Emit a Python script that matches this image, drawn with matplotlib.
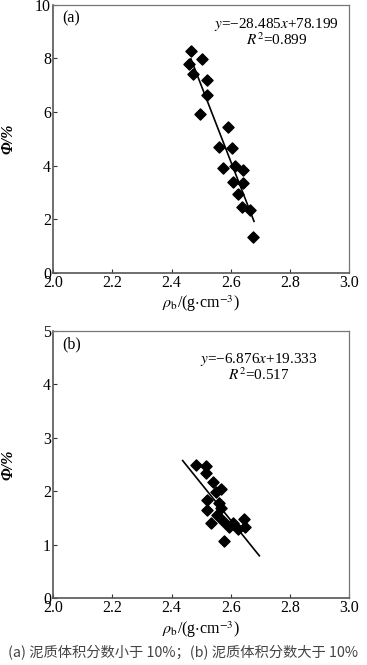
import numpy as np
import matplotlib.pyplot as plt

plt.rcParams['font.family'] = ['Liberation Serif', 'DejaVu Serif']
plt.rcParams['mathtext.fontset'] = 'stix'

# panel (a): clay volume fraction < 10%
rho_a = [2.465, 2.457, 2.502, 2.471, 2.518, 2.520, 2.497, 2.589, 2.559, 2.605,
         2.573, 2.615, 2.642, 2.608, 2.642, 2.625, 2.636, 2.663, 2.676]
phi_a = [8.28, 7.81, 7.97, 7.41, 7.21, 6.63, 5.92, 5.44, 4.70, 4.64,
         3.91, 3.99, 3.82, 3.37, 3.34, 2.94, 2.46, 2.34, 1.33]
fit_a = (-28.485, 78.199)
fit_range_a = (2.465, 2.678)

# panel (b): clay volume fraction > 10%
rho_b = [2.482, 2.516, 2.516, 2.538, 2.549, 2.567, 2.520, 2.561, 2.568, 2.520,
         2.553, 2.532, 2.572, 2.594, 2.606, 2.624, 2.645, 2.648, 2.577]
phi_b = [2.49, 2.47, 2.34, 2.18, 1.98, 2.04, 1.84, 1.79, 1.68, 1.65,
         1.56, 1.41, 1.44, 1.34, 1.41, 1.30, 1.48, 1.33, 1.08]
fit_b = (-6.876, 19.333)
fit_range_b = (2.437, 2.696)

xticks = [2.0, 2.2, 2.4, 2.6, 2.8, 3.0]

fig = plt.figure(figsize=(3.67, 6.65), dpi=100)
ax1 = fig.add_axes([0.145, 0.590, 0.807, 0.4026])
ax2 = fig.add_axes([0.145, 0.1003, 0.807, 0.402])


def draw(ax, x, y, fit, rng, ymax, yticks, tag, eq, r2, txy):
    ax.scatter(x, y, marker='D', s=32, color='black', zorder=3)
    xs = np.array(rng)
    ax.plot(xs, fit[0] * xs + fit[1], color='black', lw=1.2, zorder=2)
    ax.set_xlim(2.0, 3.0)
    ax.set_ylim(0, ymax)
    ax.set_xticks(xticks)
    ax.set_yticks(yticks)
    ax.set_xticklabels(['%.1f' % t for t in xticks])
    ax.tick_params(direction='in', length=3, width=0.8, labelsize=11.5,
                   pad=1.5, colors='#333333', labelcolor='black')
    for s in ['left', 'bottom']:
        ax.spines[s].set_color('#555555')
        ax.spines[s].set_linewidth(1.2)
    for s in ['top', 'right']:
        ax.spines[s].set_color('#777777')
        ax.spines[s].set_linewidth(0.9)
    ax.set_xlabel(r'$\rho_\mathrm{b}$/(g$\cdot$cm$^{-3}$)', fontsize=11.5, labelpad=2)
    ax.set_ylabel('Φ/%', fontsize=11.5, fontstyle='italic', fontweight='bold')
    ax.yaxis.set_label_coords(-0.125, 0.5)
    ax.text(0.03, 0.95, tag, transform=ax.transAxes, fontsize=11.5, va='center')
    ax.text(txy[0], txy[1], eq, transform=ax.transAxes, fontsize=11,
            ha='center', va='center')
    ax.text(txy[0], txy[1] - 0.058, r2, transform=ax.transAxes, fontsize=11,
            ha='center', va='center')


draw(ax1, rho_a, phi_a, fit_a, fit_range_a, 10, [0, 2, 4, 6, 8, 10], '(a)',
     r'$y$=−28.485$x$+78.199', r'$R^2$=0.899', (0.753, 0.927))
draw(ax2, rho_b, phi_b, fit_b, fit_range_b, 5, [0, 1, 2, 3, 4, 5], '(b)',
     r'$y$=−6.876$x$+19.333', r'$R^2$=0.517', (0.693, 0.895))

fig.text(0.5, 0.02, '(a) 泥质体积分数小于 10%；(b) 泥质体积分数大于 10%',
         ha='center', va='center', fontsize=10.3, color='#444444',
         family=['Noto Sans CJK SC', 'DejaVu Sans'])

fig.savefig('out.png', dpi=100)
